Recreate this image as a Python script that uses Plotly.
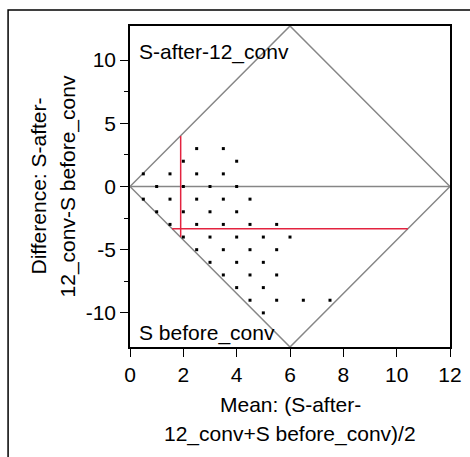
import plotly.graph_objects as go

# Observed points: mean of the two measurements and their difference
mean_vals = [
    2.5, 3.5,
    2, 4,
    0.5, 1.5, 2.5, 3.5,
    1, 2, 3, 4,
    0.5, 1.5, 2.5, 3.5, 4.5,
    1, 2, 3, 4,
    1.5, 2.5, 3.5, 4.5, 5.5,
    2, 3, 4, 5, 6,
    2.5, 3.5, 4.5, 5.5,
    3, 4, 5,
    3.5, 4.5, 5.5,
    4, 5,
    4.5, 5.5, 6.5, 7.5,
    5,
]
diff_vals = (
    [3] * 2 + [2] * 2 + [1] * 4 + [0] * 4 + [-1] * 5 + [-2] * 4
    + [-3] * 5 + [-4] * 5 + [-5] * 4 + [-6] * 3 + [-7] * 3 + [-8] * 2
    + [-9] * 4 + [-10] * 1
)

# rotated-axis diamond and zero line
diamond_x = [0, 6, 12, 6, 0]
diamond_y = [0, 12.7, 0, -12.7, 0]
zero_x = [0, 12]
zero_y = [0, 0]

# red reference lines (mean position / mean difference)
vline_x = [1.9, 1.9]
vline_y = [-4.0, 4.0]
hline_x = [1.58, 10.42]
hline_y = [-3.34, -3.34]

x_ticks = [0, 2, 4, 6, 8, 10, 12]
y_ticks = [-10, -5, 0, 5, 10]
y_ticktext = ["-10", "-5", "0", "5", "10"]

FONT = "Liberation Sans, Arial, sans-serif"
GRAY = "#868686"
RED = "#e3233f"

fig = go.Figure()

fig.add_trace(go.Scatter(x=diamond_x, y=diamond_y, mode="lines",
                         line=dict(color=GRAY, width=1.5), hoverinfo="skip"))
fig.add_trace(go.Scatter(x=zero_x, y=zero_y, mode="lines",
                         line=dict(color=GRAY, width=1.5), hoverinfo="skip"))
fig.add_trace(go.Scatter(x=vline_x, y=vline_y, mode="lines",
                         line=dict(color=RED, width=1.5), hoverinfo="skip"))
fig.add_trace(go.Scatter(x=hline_x, y=hline_y, mode="lines",
                         line=dict(color=RED, width=1.5), hoverinfo="skip"))
fig.add_trace(go.Scatter(x=mean_vals, y=diff_vals, mode="markers",
                         marker=dict(symbol="square", size=3, color="black",
                                     line=dict(width=0))))

fig.update_xaxes(
    range=[0, 12], tickvals=x_ticks, ticks="outside", ticklen=8,
    tickcolor="black", showline=True, linecolor="black", linewidth=1.5,
    mirror=True, showgrid=False, zeroline=False, automargin=False,
    tickfont=dict(family=FONT, size=21, color="black"),
)
fig.update_yaxes(
    range=[-12.7, 12.7], tickvals=y_ticks, ticktext=y_ticktext,
    ticks="outside", ticklen=8, tickcolor="black",
    minor=dict(tickvals=[-7.5, -2.5, 2.5, 7.5], ticks="outside", ticklen=4,
               tickcolor="black"),
    showline=True, linecolor="black", linewidth=1.5, mirror=True,
    showgrid=False, zeroline=False, automargin=False,
    tickfont=dict(family=FONT, size=21, color="black"),
)

txt = dict(family=FONT, size=21, color="black")
fig.add_annotation(text="S-after-12_conv", xref="paper", yref="paper",
                   x=0.022, y=0.919, xanchor="left", yanchor="middle",
                   showarrow=False, font=txt)
fig.add_annotation(text="S before_conv", xref="paper", yref="paper",
                   x=0.022, y=0.044, xanchor="left", yanchor="middle",
                   showarrow=False, font=txt)
fig.add_annotation(text="Mean: (S-after-", xref="paper", yref="paper",
                   x=0.5, y=-0.178, xanchor="center", yanchor="middle",
                   showarrow=False, font=txt)
fig.add_annotation(text="12_conv+S before_conv)/2", xref="paper", yref="paper",
                   x=0.5, y=-0.271, xanchor="center", yanchor="middle",
                   showarrow=False, font=txt)
fig.add_annotation(text="Difference: S-after-", xref="paper", yref="paper",
                   x=-0.2875, y=0.5, xanchor="center", yanchor="middle",
                   textangle=-90, showarrow=False, font=txt)
fig.add_annotation(text="12_conv-S before_conv", xref="paper", yref="paper",
                   x=-0.194, y=0.5, xanchor="center", yanchor="middle",
                   textangle=-90, showarrow=False, font=txt)

# outer frame of the report (right/bottom edges fall outside the page)
fig.add_shape(type="rect", xref="paper", yref="paper",
              x0=-0.381, y0=-1.0, x1=2.0, y1=1.0498,
              line=dict(color="black", width=1.5))

fig.update_layout(
    width=470, height=457,
    margin=dict(l=130, r=20, t=26, b=110),
    paper_bgcolor="white", plot_bgcolor="white",
    showlegend=False,
)

# drop the default page margin/scrollbars so the figure sits at the corner
fig.write_html(
    "out.html",
    config={"displayModeBar": False},
    post_script="document.body.style.margin='0px';"
                "document.body.style.overflow='hidden';",
)
